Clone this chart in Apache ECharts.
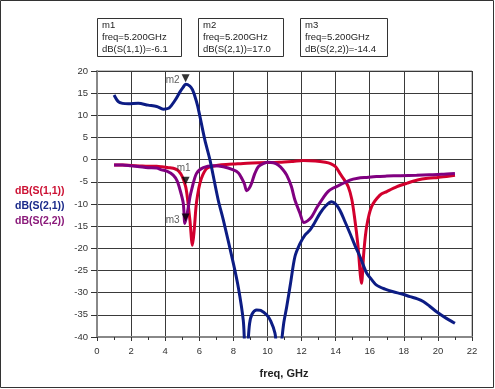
<!DOCTYPE html>
<html><head><meta charset="utf-8">
<script src="https://cdn.jsdelivr.net/npm/echarts@6/dist/echarts.min.js"></script>
<style>html,body{margin:0;padding:0;background:#fff}#c{width:495px;height:389px}</style>
</head><body><div id="c"></div>
<script>
const s11Freq = [1,1.5,2,2.5,3,3.5,3.8,4.2,4.6,4.8,5.0,5.2,5.3,5.45,5.6,5.7,5.81,5.9,6.04,6.2,6.43,6.8,7.2,8,8.8,9.5,10.7,11.5,12.1,12.8,13.4,13.7,14.0,14.25,14.5,14.74,14.95,15.13,15.3,15.52,15.65,15.82,16.11,16.6,17.0,17.6,18.2,18.8,19.4,20,20.5,21];
const s11dB = [-1.2,-1.2,-1.3,-1.4,-1.5,-1.5,-1.6,-1.8,-2.1,-2.6,-3.8,-6.1,-8.5,-13.6,-19.3,-16,-10.6,-8,-5.3,-3.5,-2.0,-1.5,-1.2,-1.0,-0.8,-0.7,-0.6,-0.4,-0.2,-0.3,-0.6,-0.9,-1.6,-3.1,-4.5,-6.1,-9,-13.6,-19,-27.9,-21,-15.1,-10.6,-8.0,-7.2,-6.1,-5.3,-4.6,-4.2,-4.0,-3.8,-3.5];

const s21Freq = [1,1.25,1.5,1.84,2.42,3.0,3.5,3.89,4.2,4.38,4.6,4.87,5.05,5.2,5.45,5.6,5.75,5.9,6.04,6.33,6.63,7.11,7.41,8.0,8.3,8.58,8.65,8.74,8.85,8.95,9.1,9.37,9.6,9.95,10.2,10.44,10.5,10.65,10.8,10.95,11.13,11.35,11.61,11.9,12.2,12.49,12.8,13.08,13.4,13.76,14.0,14.25,14.55,14.84,15.15,15.43,15.82,16.1,16.4,16.9,17.38,17.9,18.36,18.8,19.14,19.5,19.92,20.5,21.0];
const s21dB = [14.6,13.1,12.7,12.6,12.7,12.3,12.0,11.4,11.6,12.3,13.5,15.3,16.3,17.0,16.6,15.8,14.2,12.2,9.7,4.4,-0.1,-9.1,-13.6,-23.4,-29,-36.2,-41,-48,-42,-37,-34.8,-33.9,-34,-35.0,-36.5,-39.1,-41,-46,-42,-37,-33.2,-28,-21.9,-19,-17,-15.9,-14,-12.1,-10.5,-9.5,-10,-11.4,-14,-16.6,-19.5,-21.9,-25.6,-27,-28.3,-29.2,-29.8,-30.3,-30.9,-31.4,-32.0,-33,-34.3,-35.8,-36.9];

const s22Freq = [1,1.5,2,2.5,3,3.5,3.79,4.1,4.47,4.7,4.87,5.06,5.16,5.3,5.45,5.55,5.84,6.24,6.82,7.41,8.0,8.3,8.49,8.65,8.78,8.92,9.07,9.25,9.46,9.75,10.05,10.35,10.63,10.9,11.13,11.4,11.61,11.9,12.14,12.35,12.59,12.9,13.27,13.55,13.86,14.25,14.84,15.3,15.82,16.4,17.0,17.8,18.75,19.5,20.2,21.0];
const s22dB = [-1.2,-1.2,-1.4,-1.6,-1.8,-1.9,-2.3,-2.6,-3.5,-4.8,-6.8,-9.8,-14.4,-12,-8.5,-6.8,-3.1,-1.8,-1.4,-1.6,-2.3,-3.0,-4.2,-5.5,-7.0,-6.5,-5.3,-3.2,-1.6,-0.9,-0.6,-0.7,-1.2,-2.2,-3.5,-6.0,-9.1,-12.0,-14.2,-13.8,-12.9,-10.8,-8.6,-7.2,-6.4,-5.7,-4.6,-4.2,-4.0,-3.8,-3.7,-3.6,-3.5,-3.4,-3.3,-3.1];

const seriesNames = ['dB(S(1,1))','dB(S(2,1))','dB(S(2,2))'];
const markerNames = ['m1','m2','m3'];
const markerFreq = [5.2,5.2,5.2];
const markerVal = [-6.1,17.0,-14.4];
const xTicks = [0,2,4,6,8,10,12,14,16,18,20,22];
const yTicks = [20,15,10,5,0,-5,-10,-15,-20,-25,-30,-35,-40];

const colors = ['#d2002d','#0c1c84','#800080'];
const legendColors = ['#cc1133','#1a2a8a','#8a1a7a'];
const zip = (a,b) => a.map((v,i)=>[v,b[i]]);
const FONT = 'Liberation Sans, Arial, sans-serif';

const chart = echarts.init(document.getElementById('c'));

const markerLabelPos = [
  {position:'top', offset:[-2,-1]},
  {position:'left', offset:[0,2]},
  {position:'left', offset:[0,3]}
];

const graphics = [
  {type:'rect', shape:{x:0.5,y:0.5,width:493,height:387}, style:{fill:'none',stroke:'#333',lineWidth:1}, z:100}
];
const boxX = [97,198,300], boxW = [84,85,87];
markerNames.forEach((m,i)=>{
  graphics.push({type:'rect', shape:{x:boxX[i]+0.5,y:18.5,width:boxW[i],height:38}, style:{fill:'#fff',stroke:'#333',lineWidth:1}});
  graphics.push({type:'text', x:boxX[i]+5, y:20, style:{text:m+'\nfreq='+markerFreq[i].toFixed(3)+'GHz\n'+seriesNames[i]+'='+markerVal[i].toFixed(1), font:'9.5px '+FONT, fill:'#222', lineHeight:11.7}});
});
seriesNames.forEach((n,i)=>{
  graphics.push({type:'text', x:15, y:186+i*15, style:{text:n, font:'bold 10.5px '+FONT, fill:legendColors[i]}});
});
graphics.push({type:'text', x:284, y:374, style:{text:'freq, GHz', font:'bold 11px '+FONT, fill:'#222', textAlign:'center', textVerticalAlign:'middle'}});

const dataSets = [zip(s11Freq,s11dB), zip(s21Freq,s21dB), zip(s22Freq,s22dB)];
const series = dataSets.map((d,i)=>({
  name: seriesNames[i], type:'line', data:d, showSymbol:false, smooth:0.3,
  lineStyle:{color:colors[i], width:3}, itemStyle:{color:colors[i]}, clip:true, z:3+(i===1?1:0)
}));
series.push({
  type:'scatter', z:10,
  symbol:'triangle', symbolRotate:180, symbolSize:[8,8], symbolOffset:[0,-6],
  itemStyle:{color:'#000'},
  data: markerNames.map((m,i)=>({value:[markerFreq[i],markerVal[i]], name:m,
    label:{show:true, formatter:m, position:markerLabelPos[i].position, offset:markerLabelPos[i].offset, fontSize:10, color:'#333', fontFamily:FONT, distance:2}}))
});

chart.setOption({
  animation:false,
  backgroundColor:'#fff',
  grid:{left:97, right:23, top:71, bottom:52, show:true, borderColor:'#888', borderWidth:1},
  xAxis:{type:'value', min:xTicks[0], max:xTicks[xTicks.length-1], interval:2,
    axisLine:{show:true, onZero:false, lineStyle:{color:'#888', width:2}},
    axisTick:{show:true, length:4, inside:false, lineStyle:{color:'#333'}},
    minorTick:{show:true, splitNumber:2, length:3, lineStyle:{color:'#333'}},
    axisLabel:{fontSize:9.5, color:'#333', fontFamily:FONT, margin:9},
    splitLine:{show:true, lineStyle:{color:'#3a3a3a', width:1}}},
  yAxis:{type:'value', min:yTicks[yTicks.length-1], max:yTicks[0], interval:5,
    axisLine:{show:true, onZero:false, lineStyle:{color:'#888', width:2}},
    axisTick:{show:true, length:6, lineStyle:{color:'#333'}},
    axisLabel:{fontSize:9.5, color:'#333', fontFamily:FONT, margin:9},
    splitLine:{show:true, lineStyle:{color:'#3a3a3a', width:1}}},
  graphic:graphics,
  series:series
});
</script></body></html>
